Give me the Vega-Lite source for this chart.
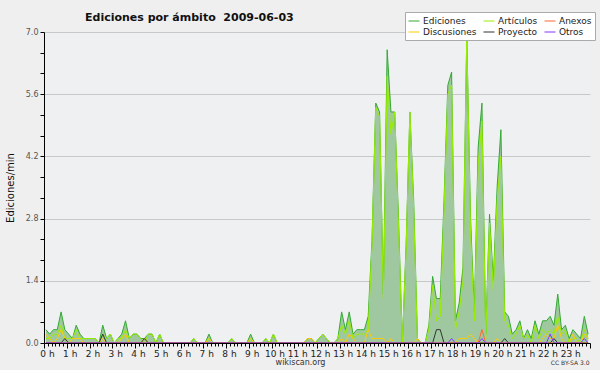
{
"$schema":"https://vega.github.io/schema/vega-lite/v6.json",
"width":546,"height":311,
"autosize":{"type":"none"},
"padding":{"left":44,"top":32,"right":10,"bottom":27},
"background":"#efefef",
"config":{"view":{"fill":"#eef0f2","stroke":null},"font":"DejaVu Sans"},
"title":{"text":"Ediciones por ámbito\u00a0 2009-06-03","anchor":"start","frame":"group","dx":41,"offset":0,"dy":20.5,"baseline":"alphabetic","fontSize":11,"fontWeight":"bold","font":"DejaVu Sans","color":"#111111"},
"data":{"values":[
{"m":5,"Ediciones":0.3,"Artículos":0.1,"Anexos":0,"Discusiones":0.2,"Proyecto":0,"Otros":0},
{"m":15,"Ediciones":0.2,"Artículos":0.1,"Anexos":0,"Discusiones":0.1,"Proyecto":0,"Otros":0},
{"m":25,"Ediciones":0.3,"Artículos":0.2,"Anexos":0,"Discusiones":0,"Proyecto":0,"Otros":0},
{"m":35,"Ediciones":0.3,"Artículos":0.2,"Anexos":0,"Discusiones":0.1,"Proyecto":0,"Otros":0},
{"m":45,"Ediciones":0.7,"Artículos":0.4,"Anexos":0,"Discusiones":0.3,"Proyecto":0,"Otros":0},
{"m":55,"Ediciones":0.3,"Artículos":0.1,"Anexos":0,"Discusiones":0.1,"Proyecto":0.1,"Otros":0},
{"m":65,"Ediciones":0.2,"Artículos":0.1,"Anexos":0,"Discusiones":0,"Proyecto":0,"Otros":0},
{"m":75,"Ediciones":0.1,"Artículos":0.1,"Anexos":0,"Discusiones":0.1,"Proyecto":0,"Otros":0},
{"m":85,"Ediciones":0.4,"Artículos":0.3,"Anexos":0,"Discusiones":0.1,"Proyecto":0,"Otros":0},
{"m":95,"Ediciones":0.2,"Artículos":0.1,"Anexos":0,"Discusiones":0.1,"Proyecto":0,"Otros":0},
{"m":105,"Ediciones":0.1,"Artículos":0.1,"Anexos":0,"Discusiones":0,"Proyecto":0,"Otros":0},
{"m":115,"Ediciones":0.1,"Artículos":0.1,"Anexos":0,"Discusiones":0,"Proyecto":0,"Otros":0},
{"m":125,"Ediciones":0.1,"Artículos":0.1,"Anexos":0,"Discusiones":0,"Proyecto":0,"Otros":0},
{"m":135,"Ediciones":0.1,"Artículos":0.1,"Anexos":0,"Discusiones":0,"Proyecto":0,"Otros":0},
{"m":145,"Ediciones":0,"Artículos":0,"Anexos":0,"Discusiones":0,"Proyecto":0,"Otros":0},
{"m":155,"Ediciones":0.4,"Artículos":0.2,"Anexos":0,"Discusiones":0.1,"Proyecto":0.2,"Otros":0},
{"m":165,"Ediciones":0.1,"Artículos":0.1,"Anexos":0,"Discusiones":0,"Proyecto":0,"Otros":0},
{"m":175,"Ediciones":0.2,"Artículos":0.2,"Anexos":0,"Discusiones":0,"Proyecto":0,"Otros":0},
{"m":185,"Ediciones":0,"Artículos":0,"Anexos":0,"Discusiones":0,"Proyecto":0,"Otros":0},
{"m":195,"Ediciones":0.1,"Artículos":0.1,"Anexos":0,"Discusiones":0,"Proyecto":0,"Otros":0},
{"m":205,"Ediciones":0.2,"Artículos":0.1,"Anexos":0,"Discusiones":0.1,"Proyecto":0,"Otros":0},
{"m":215,"Ediciones":0.5,"Artículos":0.3,"Anexos":0,"Discusiones":0.2,"Proyecto":0,"Otros":0},
{"m":225,"Ediciones":0.1,"Artículos":0.1,"Anexos":0,"Discusiones":0,"Proyecto":0,"Otros":0},
{"m":235,"Ediciones":0.2,"Artículos":0.2,"Anexos":0,"Discusiones":0,"Proyecto":0,"Otros":0},
{"m":245,"Ediciones":0.2,"Artículos":0.2,"Anexos":0,"Discusiones":0,"Proyecto":0,"Otros":0},
{"m":255,"Ediciones":0.1,"Artículos":0.1,"Anexos":0,"Discusiones":0,"Proyecto":0,"Otros":0},
{"m":265,"Ediciones":0.1,"Artículos":0,"Anexos":0,"Discusiones":0.1,"Proyecto":0.1,"Otros":0},
{"m":275,"Ediciones":0.2,"Artículos":0.2,"Anexos":0,"Discusiones":0,"Proyecto":0,"Otros":0},
{"m":285,"Ediciones":0.2,"Artículos":0.2,"Anexos":0,"Discusiones":0,"Proyecto":0,"Otros":0},
{"m":295,"Ediciones":0,"Artículos":0,"Anexos":0,"Discusiones":0,"Proyecto":0,"Otros":0},
{"m":305,"Ediciones":0.2,"Artículos":0.2,"Anexos":0,"Discusiones":0,"Proyecto":0,"Otros":0},
{"m":315,"Ediciones":0,"Artículos":0,"Anexos":0,"Discusiones":0,"Proyecto":0,"Otros":0},
{"m":325,"Ediciones":0,"Artículos":0,"Anexos":0,"Discusiones":0,"Proyecto":0,"Otros":0},
{"m":335,"Ediciones":0,"Artículos":0,"Anexos":0,"Discusiones":0,"Proyecto":0,"Otros":0},
{"m":345,"Ediciones":0,"Artículos":0,"Anexos":0,"Discusiones":0,"Proyecto":0,"Otros":0},
{"m":355,"Ediciones":0,"Artículos":0,"Anexos":0,"Discusiones":0,"Proyecto":0,"Otros":0},
{"m":365,"Ediciones":0,"Artículos":0,"Anexos":0,"Discusiones":0,"Proyecto":0,"Otros":0},
{"m":375,"Ediciones":0,"Artículos":0,"Anexos":0,"Discusiones":0,"Proyecto":0,"Otros":0},
{"m":385,"Ediciones":0,"Artículos":0,"Anexos":0,"Discusiones":0,"Proyecto":0,"Otros":0},
{"m":395,"Ediciones":0.1,"Artículos":0.1,"Anexos":0,"Discusiones":0,"Proyecto":0,"Otros":0},
{"m":405,"Ediciones":0,"Artículos":0,"Anexos":0,"Discusiones":0,"Proyecto":0,"Otros":0},
{"m":415,"Ediciones":0,"Artículos":0,"Anexos":0,"Discusiones":0,"Proyecto":0,"Otros":0},
{"m":425,"Ediciones":0,"Artículos":0,"Anexos":0,"Discusiones":0,"Proyecto":0,"Otros":0},
{"m":435,"Ediciones":0.2,"Artículos":0.1,"Anexos":0,"Discusiones":0.1,"Proyecto":0,"Otros":0},
{"m":445,"Ediciones":0,"Artículos":0,"Anexos":0,"Discusiones":0,"Proyecto":0,"Otros":0},
{"m":455,"Ediciones":0,"Artículos":0,"Anexos":0,"Discusiones":0,"Proyecto":0,"Otros":0},
{"m":465,"Ediciones":0,"Artículos":0,"Anexos":0,"Discusiones":0,"Proyecto":0,"Otros":0},
{"m":475,"Ediciones":0,"Artículos":0,"Anexos":0,"Discusiones":0,"Proyecto":0,"Otros":0},
{"m":485,"Ediciones":0,"Artículos":0,"Anexos":0,"Discusiones":0,"Proyecto":0,"Otros":0},
{"m":495,"Ediciones":0.1,"Artículos":0.1,"Anexos":0,"Discusiones":0,"Proyecto":0,"Otros":0},
{"m":505,"Ediciones":0,"Artículos":0,"Anexos":0,"Discusiones":0,"Proyecto":0,"Otros":0},
{"m":515,"Ediciones":0,"Artículos":0,"Anexos":0,"Discusiones":0,"Proyecto":0,"Otros":0},
{"m":525,"Ediciones":0,"Artículos":0,"Anexos":0,"Discusiones":0,"Proyecto":0,"Otros":0},
{"m":535,"Ediciones":0,"Artículos":0,"Anexos":0,"Discusiones":0,"Proyecto":0,"Otros":0},
{"m":545,"Ediciones":0.2,"Artículos":0.1,"Anexos":0,"Discusiones":0.1,"Proyecto":0,"Otros":0},
{"m":555,"Ediciones":0,"Artículos":0,"Anexos":0,"Discusiones":0,"Proyecto":0,"Otros":0},
{"m":565,"Ediciones":0,"Artículos":0,"Anexos":0,"Discusiones":0,"Proyecto":0,"Otros":0},
{"m":575,"Ediciones":0,"Artículos":0,"Anexos":0,"Discusiones":0,"Proyecto":0,"Otros":0},
{"m":585,"Ediciones":0.1,"Artículos":0.1,"Anexos":0,"Discusiones":0,"Proyecto":0,"Otros":0},
{"m":595,"Ediciones":0,"Artículos":0,"Anexos":0,"Discusiones":0,"Proyecto":0,"Otros":0},
{"m":605,"Ediciones":0.2,"Artículos":0.2,"Anexos":0,"Discusiones":0,"Proyecto":0,"Otros":0},
{"m":615,"Ediciones":0,"Artículos":0,"Anexos":0,"Discusiones":0,"Proyecto":0,"Otros":0},
{"m":625,"Ediciones":0,"Artículos":0,"Anexos":0,"Discusiones":0,"Proyecto":0,"Otros":0},
{"m":635,"Ediciones":0,"Artículos":0,"Anexos":0,"Discusiones":0,"Proyecto":0,"Otros":0},
{"m":645,"Ediciones":0,"Artículos":0,"Anexos":0,"Discusiones":0,"Proyecto":0,"Otros":0},
{"m":655,"Ediciones":0,"Artículos":0,"Anexos":0,"Discusiones":0,"Proyecto":0,"Otros":0},
{"m":665,"Ediciones":0,"Artículos":0,"Anexos":0,"Discusiones":0,"Proyecto":0,"Otros":0},
{"m":675,"Ediciones":0,"Artículos":0,"Anexos":0,"Discusiones":0,"Proyecto":0,"Otros":0},
{"m":685,"Ediciones":0,"Artículos":0,"Anexos":0,"Discusiones":0,"Proyecto":0,"Otros":0},
{"m":695,"Ediciones":0.1,"Artículos":0,"Anexos":0,"Discusiones":0.1,"Proyecto":0,"Otros":0},
{"m":705,"Ediciones":0.1,"Artículos":0,"Anexos":0,"Discusiones":0.1,"Proyecto":0,"Otros":0},
{"m":715,"Ediciones":0,"Artículos":0,"Anexos":0,"Discusiones":0,"Proyecto":0,"Otros":0},
{"m":725,"Ediciones":0.1,"Artículos":0.1,"Anexos":0,"Discusiones":0,"Proyecto":0,"Otros":0},
{"m":735,"Ediciones":0.2,"Artículos":0.2,"Anexos":0,"Discusiones":0,"Proyecto":0,"Otros":0},
{"m":745,"Ediciones":0.1,"Artículos":0.1,"Anexos":0,"Discusiones":0,"Proyecto":0,"Otros":0},
{"m":755,"Ediciones":0,"Artículos":0,"Anexos":0,"Discusiones":0,"Proyecto":0,"Otros":0},
{"m":765,"Ediciones":0,"Artículos":0,"Anexos":0,"Discusiones":0,"Proyecto":0,"Otros":0},
{"m":775,"Ediciones":0.1,"Artículos":0.1,"Anexos":0,"Discusiones":0,"Proyecto":0,"Otros":0},
{"m":785,"Ediciones":0.7,"Artículos":0.4,"Anexos":0,"Discusiones":0.1,"Proyecto":0,"Otros":0},
{"m":795,"Ediciones":0.3,"Artículos":0.2,"Anexos":0,"Discusiones":0,"Proyecto":0,"Otros":0},
{"m":805,"Ediciones":0.7,"Artículos":0.5,"Anexos":0,"Discusiones":0.2,"Proyecto":0,"Otros":0},
{"m":815,"Ediciones":0.2,"Artículos":0.1,"Anexos":0,"Discusiones":0.1,"Proyecto":0,"Otros":0},
{"m":825,"Ediciones":0.3,"Artículos":0.2,"Anexos":0,"Discusiones":0,"Proyecto":0,"Otros":0},
{"m":835,"Ediciones":0.3,"Artículos":0.2,"Anexos":0,"Discusiones":0,"Proyecto":0,"Otros":0},
{"m":845,"Ediciones":0.3,"Artículos":0.2,"Anexos":0,"Discusiones":0,"Proyecto":0,"Otros":0},
{"m":855,"Ediciones":0.6,"Artículos":0.3,"Anexos":0,"Discusiones":0.3,"Proyecto":0,"Otros":0},
{"m":865,"Ediciones":2.3,"Artículos":2.2,"Anexos":0,"Discusiones":0.1,"Proyecto":0,"Otros":0},
{"m":875,"Ediciones":5.4,"Artículos":5.3,"Anexos":0,"Discusiones":0.1,"Proyecto":0,"Otros":0},
{"m":885,"Ediciones":5.2,"Artículos":5.1,"Anexos":0,"Discusiones":0.1,"Proyecto":0,"Otros":0},
{"m":895,"Ediciones":1.1,"Artículos":1.0,"Anexos":0,"Discusiones":0.1,"Proyecto":0,"Otros":0},
{"m":905,"Ediciones":6.6,"Artículos":6.0,"Anexos":0,"Discusiones":0,"Proyecto":0,"Otros":0},
{"m":915,"Ediciones":5.2,"Artículos":4.7,"Anexos":0,"Discusiones":0.1,"Proyecto":0,"Otros":0},
{"m":925,"Ediciones":5.2,"Artículos":5.2,"Anexos":0,"Discusiones":0,"Proyecto":0,"Otros":0},
{"m":935,"Ediciones":2.8,"Artículos":2.6,"Anexos":0,"Discusiones":0,"Proyecto":0,"Otros":0},
{"m":945,"Ediciones":0,"Artículos":0,"Anexos":0,"Discusiones":0,"Proyecto":0,"Otros":0},
{"m":955,"Ediciones":2.2,"Artículos":2.1,"Anexos":0,"Discusiones":0,"Proyecto":0,"Otros":0},
{"m":965,"Ediciones":5.2,"Artículos":5.2,"Anexos":0,"Discusiones":0,"Proyecto":0,"Otros":0},
{"m":975,"Ediciones":3.2,"Artículos":3.0,"Anexos":0,"Discusiones":0,"Proyecto":0,"Otros":0},
{"m":985,"Ediciones":0.1,"Artículos":0,"Anexos":0,"Discusiones":0.1,"Proyecto":0,"Otros":0},
{"m":995,"Ediciones":0,"Artículos":0,"Anexos":0,"Discusiones":0,"Proyecto":0,"Otros":0},
{"m":1005,"Ediciones":0,"Artículos":0,"Anexos":0,"Discusiones":0,"Proyecto":0,"Otros":0},
{"m":1015,"Ediciones":0.4,"Artículos":0.3,"Anexos":0,"Discusiones":0,"Proyecto":0,"Otros":0},
{"m":1025,"Ediciones":1.5,"Artículos":1.3,"Anexos":0,"Discusiones":0,"Proyecto":0,"Otros":0},
{"m":1035,"Ediciones":1.0,"Artículos":0.5,"Anexos":0,"Discusiones":0,"Proyecto":0.3,"Otros":0},
{"m":1045,"Ediciones":1.0,"Artículos":0.6,"Anexos":0,"Discusiones":0,"Proyecto":0.3,"Otros":0},
{"m":1055,"Ediciones":3.2,"Artículos":3.0,"Anexos":0,"Discusiones":0,"Proyecto":0,"Otros":0},
{"m":1065,"Ediciones":5.8,"Artículos":5.6,"Anexos":0,"Discusiones":0,"Proyecto":0,"Otros":0},
{"m":1075,"Ediciones":6.1,"Artículos":5.8,"Anexos":0,"Discusiones":0,"Proyecto":0,"Otros":0.1},
{"m":1085,"Ediciones":0.5,"Artículos":0.3,"Anexos":0,"Discusiones":0,"Proyecto":0,"Otros":0},
{"m":1095,"Ediciones":0.9,"Artículos":0.7,"Anexos":0,"Discusiones":0.1,"Proyecto":0,"Otros":0},
{"m":1105,"Ediciones":1.7,"Artículos":1.4,"Anexos":0,"Discusiones":0.1,"Proyecto":0,"Otros":0},
{"m":1115,"Ediciones":6.9,"Artículos":6.9,"Anexos":0,"Discusiones":0.1,"Proyecto":0,"Otros":0},
{"m":1125,"Ediciones":2.8,"Artículos":2.5,"Anexos":0,"Discusiones":0.2,"Proyecto":0,"Otros":0},
{"m":1135,"Ediciones":0.7,"Artículos":0.5,"Anexos":0,"Discusiones":0.1,"Proyecto":0,"Otros":0},
{"m":1145,"Ediciones":4.4,"Artículos":4.0,"Anexos":0,"Discusiones":0,"Proyecto":0,"Otros":0},
{"m":1155,"Ediciones":5.4,"Artículos":5.0,"Anexos":0.3,"Discusiones":0,"Proyecto":0,"Otros":0.1},
{"m":1165,"Ediciones":0.2,"Artículos":0.1,"Anexos":0,"Discusiones":0,"Proyecto":0,"Otros":0},
{"m":1175,"Ediciones":2.9,"Artículos":2.7,"Anexos":0,"Discusiones":0,"Proyecto":0,"Otros":0},
{"m":1185,"Ediciones":1.4,"Artículos":1.2,"Anexos":0,"Discusiones":0,"Proyecto":0,"Otros":0},
{"m":1195,"Ediciones":3.5,"Artículos":3.2,"Anexos":0,"Discusiones":0.1,"Proyecto":0,"Otros":0},
{"m":1205,"Ediciones":4.8,"Artículos":4.2,"Anexos":0,"Discusiones":0,"Proyecto":0,"Otros":0},
{"m":1215,"Ediciones":0.7,"Artículos":0.5,"Anexos":0,"Discusiones":0,"Proyecto":0.1,"Otros":0},
{"m":1225,"Ediciones":0.6,"Artículos":0.4,"Anexos":0,"Discusiones":0,"Proyecto":0,"Otros":0},
{"m":1235,"Ediciones":0.2,"Artículos":0.1,"Anexos":0,"Discusiones":0,"Proyecto":0,"Otros":0},
{"m":1245,"Ediciones":0.3,"Artículos":0.2,"Anexos":0,"Discusiones":0,"Proyecto":0,"Otros":0},
{"m":1255,"Ediciones":0.5,"Artículos":0.4,"Anexos":0,"Discusiones":0,"Proyecto":0,"Otros":0},
{"m":1265,"Ediciones":0.1,"Artículos":0.1,"Anexos":0,"Discusiones":0,"Proyecto":0,"Otros":0},
{"m":1275,"Ediciones":0.3,"Artículos":0.2,"Anexos":0,"Discusiones":0,"Proyecto":0,"Otros":0},
{"m":1285,"Ediciones":0.1,"Artículos":0,"Anexos":0,"Discusiones":0,"Proyecto":0,"Otros":0},
{"m":1295,"Ediciones":0.5,"Artículos":0.4,"Anexos":0,"Discusiones":0,"Proyecto":0,"Otros":0},
{"m":1305,"Ediciones":0.2,"Artículos":0.1,"Anexos":0,"Discusiones":0,"Proyecto":0,"Otros":0},
{"m":1315,"Ediciones":0.5,"Artículos":0.3,"Anexos":0,"Discusiones":0.1,"Proyecto":0,"Otros":0},
{"m":1325,"Ediciones":0.5,"Artículos":0.2,"Anexos":0,"Discusiones":0.2,"Proyecto":0,"Otros":0},
{"m":1335,"Ediciones":0.6,"Artículos":0.3,"Anexos":0,"Discusiones":0.1,"Proyecto":0,"Otros":0.2},
{"m":1345,"Ediciones":0.4,"Artículos":0.2,"Anexos":0,"Discusiones":0.1,"Proyecto":0.1,"Otros":0},
{"m":1355,"Ediciones":1.1,"Artículos":0.6,"Anexos":0,"Discusiones":0.4,"Proyecto":0,"Otros":0},
{"m":1365,"Ediciones":0.3,"Artículos":0.2,"Anexos":0,"Discusiones":0.1,"Proyecto":0,"Otros":0},
{"m":1375,"Ediciones":0.4,"Artículos":0.3,"Anexos":0,"Discusiones":0,"Proyecto":0,"Otros":0},
{"m":1385,"Ediciones":0.1,"Artículos":0,"Anexos":0,"Discusiones":0,"Proyecto":0,"Otros":0},
{"m":1395,"Ediciones":0.3,"Artículos":0.1,"Anexos":0,"Discusiones":0.2,"Proyecto":0,"Otros":0},
{"m":1405,"Ediciones":0.2,"Artículos":0.1,"Anexos":0,"Discusiones":0,"Proyecto":0,"Otros":0},
{"m":1415,"Ediciones":0.1,"Artículos":0,"Anexos":0,"Discusiones":0,"Proyecto":0,"Otros":0},
{"m":1425,"Ediciones":0.6,"Artículos":0.3,"Anexos":0,"Discusiones":0.2,"Proyecto":0,"Otros":0.1},
{"m":1435,"Ediciones":0.2,"Artículos":0.1,"Anexos":0,"Discusiones":0.1,"Proyecto":0,"Otros":0}
]},
"transform":[{"fold":["Ediciones","Artículos","Discusiones","Proyecto","Anexos","Otros"],"as":["serie","valor"]}],
"encoding":{"x":{"field":"m","type":"quantitative","scale":{"domain":[0,1440],"nice":false,"zero":false},
 "axis":{"values":[0,10,20,30,40,50,60,70,80,90,100,110,120,130,140,150,160,170,180,190,200,210,220,230,240,250,260,270,280,290,300,310,320,330,340,350,360,370,380,390,400,410,420,430,440,450,460,470,480,490,500,510,520,530,540,550,560,570,580,590,600,610,620,630,640,650,660,670,680,690,700,710,720,730,740,750,760,770,780,790,800,810,820,830,840,850,860,870,880,890,900,910,920,930,940,950,960,970,980,990,1000,1010,1020,1030,1040,1050,1060,1070,1080,1090,1100,1110,1120,1130,1140,1150,1160,1170,1180,1190,1200,1210,1220,1230,1240,1250,1260,1270,1280,1290,1300,1310,1320,1330,1340,1350,1360,1370,1380,1390,1400,1410,1420,1430,1440],
 "labelExpr":"datum.value % 60 === 0 && datum.value < 1440 ? (datum.value/60) + ' h' : ''",
 "tickSize":{"condition":{"test":"datum.value % 60 === 0","value":5},"value":3},
 "tickColor":"#000000","domainColor":"#000000","tickWidth":1,"domainWidth":1,
 "labelFontSize":9,"labelColor":"#222222","labelPadding":1,"labelFlush":false,"labelOverlap":false,"labelOffset":3,"labelBound":false,
 "grid":false,
 "title":"wikiscan.org","titleFontSize":8,"titleFontWeight":"normal","titleColor":"#333333","titleX":256,"titleY":21,"titleAlign":"center","titleBaseline":"alphabetic","titleAnchor":null,
 "zindex":1}}},
"layer":[
 {"transform":[{"filter":"datum.serie === 'Ediciones'"}],
  "mark":{"type":"area","color":"#a0c8a0","opacity":1},
  "encoding":{"y":{"field":"valor","type":"quantitative","scale":{"domain":[0,7],"nice":false},
   "axis":{"orient":"right","values":[1.4,2.8,4.2,5.6,7],"grid":true,"gridColor":"#c8c8c8","gridWidth":1,"domain":false,"ticks":false,"labels":false,
    "title":"CC BY-SA 3.0","titleAngle":0,"titleFontSize":6,"titleFontWeight":"normal","titleColor":"#333333","titleX":-1,"titleY":332,"titleAlign":"right","titleBaseline":"alphabetic","zindex":0}}}},
 {"mark":{"type":"line","strokeWidth":1},
  "encoding":{"y":{"field":"valor","type":"quantitative",
   "axis":{"orient":"left","values":[0,0.466667,0.933333,1.4,1.866667,2.333333,2.8,3.266667,3.733333,4.2,4.666667,5.133333,5.6,6.066667,6.533333,7],
    "labelExpr":"abs(datum.value/1.4 - round(datum.value/1.4)) < 0.001 ? format(datum.value, '.1f') : ''",
    "grid":false,"tickSize":4,"tickColor":"#000000","domainColor":"#000000","labelFontSize":8,"labelColor":"#555555","labelPadding":2,"labelOverlap":false,
    "title":"Ediciones/min","titleFontSize":10,"titleFontWeight":"normal","titleColor":"#111111","titleX":-34,"titleY":155.5,"titleAngle":-90,"titleBaseline":"middle","titleAlign":"center","zindex":1}},
   "color":{"field":"serie","type":"nominal","scale":{"domain":["Ediciones","Artículos","Anexos","Discusiones","Proyecto","Otros"],"range":["#33aa33","#99ee00","#ff6633","#ffcc00","#333333","#8833ff"]},
    "legend":{"orient":"none","legendX":361,"legendY":-20,"direction":"horizontal","columns":3,"title":null,"symbolType":"stroke","symbolStrokeWidth":1,"symbolSize":121,"labelFontSize":9,"labelColor":"#222222","fillColor":"#ffffff","strokeColor":"#aaaaaa","padding":3,"rowPadding":0,"columnPadding":4,"labelOffset":3}}}}
],
"resolve":{"axis":{"y":"independent"}}
}
